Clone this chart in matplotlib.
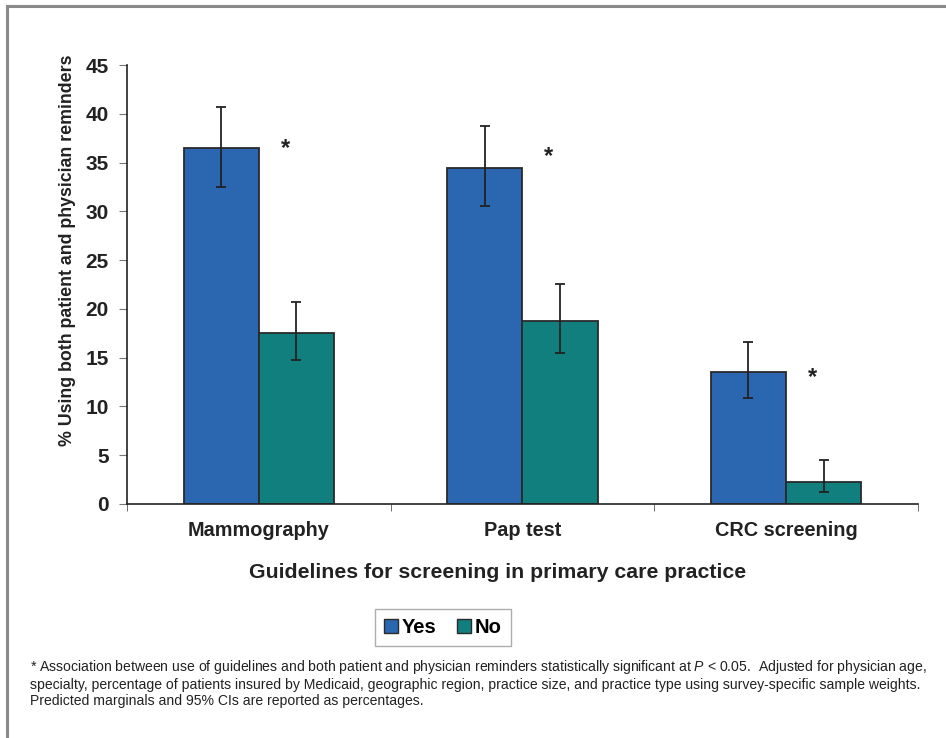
import matplotlib
matplotlib.use('Agg')
from matplotlib import pyplot as plt
from matplotlib.lines import Line2D
from matplotlib.patches import Patch
import numpy as np

plt.rcParams['font.family'] = ['Liberation Sans', 'DejaVu Sans']
plt.rcParams['mathtext.fontset'] = 'custom'
plt.rcParams['mathtext.rm'] = 'Liberation Sans'
plt.rcParams['mathtext.it'] = 'Liberation Sans:italic'

# Predicted marginals (%) with 95% CIs
categories = ['Mammography', 'Pap test', 'CRC screening']
yes_vals = [36.5, 34.4, 13.5]
yes_low = [32.5, 30.5, 10.9]
yes_high = [40.7, 38.7, 16.6]
no_vals = [17.5, 18.8, 2.3]
no_low = [14.8, 15.5, 1.2]
no_high = [20.7, 22.6, 4.5]
star_heights = [36.4, 35.6, 13.0]
y_ticks = [0, 5, 10, 15, 20, 25, 30, 35, 40, 45]

yes_color = '#2b66b1'
no_color = '#107f7e'
text_color = '#222222'

fig = plt.figure(dpi=100, figsize=(9.46, 7.38))
ax = fig.add_axes([0.1342, 0.3171, 0.836, 0.5948])

x = np.arange(len(categories))
w = 0.285
yes_err = [np.subtract(yes_vals, yes_low), np.subtract(yes_high, yes_vals)]
no_err = [np.subtract(no_vals, no_low), np.subtract(no_high, no_vals)]

ax.bar(x - w / 2, yes_vals, w, color=yes_color, edgecolor='#2a2a2a', linewidth=1.3)
ax.bar(x + w / 2, no_vals, w, color=no_color, edgecolor='#2a2a2a', linewidth=1.3)
ax.errorbar(x - w / 2, yes_vals, yerr=yes_err, fmt='none', ecolor=text_color,
            elinewidth=1.3, capsize=3.5, capthick=1.3)
ax.errorbar(x + w / 2, no_vals, yerr=no_err, fmt='none', ecolor=text_color,
            elinewidth=1.3, capsize=3.5, capthick=1.3)

# significance markers
for xi, h in zip(x, star_heights):
    ax.text(xi + 0.1, h, '*', ha='center', va='center', fontsize=17,
            fontweight='bold', color=text_color)

ax.set_xlim(-0.5, 2.5)
ax.set_ylim(0, 45)
ax.set_yticks(y_ticks)
ax.set_xticks(x)
ax.set_xticklabels(categories, fontsize=14.3, fontweight='bold', color=text_color)
ax.set_xticks([-0.5, 0.5, 1.5, 2.5], minor=True)
ax.tick_params(axis='x', which='major', length=0, pad=12)
ax.tick_params(axis='x', which='minor', length=5, direction='out', color='#555555')
ax.tick_params(axis='y', length=6, direction='out', labelsize=15, pad=7,
               color='#777777', labelcolor=text_color)
for lbl in ax.get_yticklabels():
    lbl.set_fontweight('bold')

for side in ['top', 'right']:
    ax.spines[side].set_visible(False)
for side in ['left', 'bottom']:
    ax.spines[side].set_linewidth(1.2)
    ax.spines[side].set_color(text_color)

fig.text(68 / 946, 1 - 250 / 738, '% Using both patient and physician reminders',
         rotation=90, ha='center', va='center', fontsize=12.8, fontweight='bold',
         color=text_color)
fig.text(498 / 946, 1 - 573 / 738, 'Guidelines for screening in primary care practice',
         ha='center', va='center', fontsize=15.3, fontweight='bold', color=text_color)

handles = [Patch(facecolor=yes_color, edgecolor='#2a2a2a', label='Yes'),
           Patch(facecolor=no_color, edgecolor='#2a2a2a', label='No')]
leg = fig.legend(handles=handles, loc='center', bbox_to_anchor=(0.468, 0.150),
                 ncol=2, frameon=True, fancybox=False, handlelength=0.7,
                 handleheight=0.7, handletextpad=0.2, columnspacing=1.0,
                 borderpad=0.45, prop={'weight': 'bold', 'size': 14.5})
leg.get_frame().set_edgecolor('#999999')
leg.get_frame().set_linewidth(1.0)

note = ('* Association between use of guidelines and both patient and physician reminders '
        'statistically significant at $\\it{P}$ < 0.05.  Adjusted for physician age,\n'
        'specialty, percentage of patients insured by Medicaid, geographic region, practice size, '
        'and practice type using survey-specific sample weights.\n'
        'Predicted marginals and 95% CIs are reported as percentages.')
fig.text(0.032, 0.108, note, fontsize=10.1, color=text_color, va='top', ha='left',
         linespacing=1.18)

# outer frame
fig.add_artist(Line2D([0.0075, 1.0], [0.9915, 0.9915], color='#8a8a8a', lw=2.2))
fig.add_artist(Line2D([0.0075, 0.0075], [0.0, 0.9915], color='#8a8a8a', lw=2.2))

plt.savefig('out.png', dpi=100)
